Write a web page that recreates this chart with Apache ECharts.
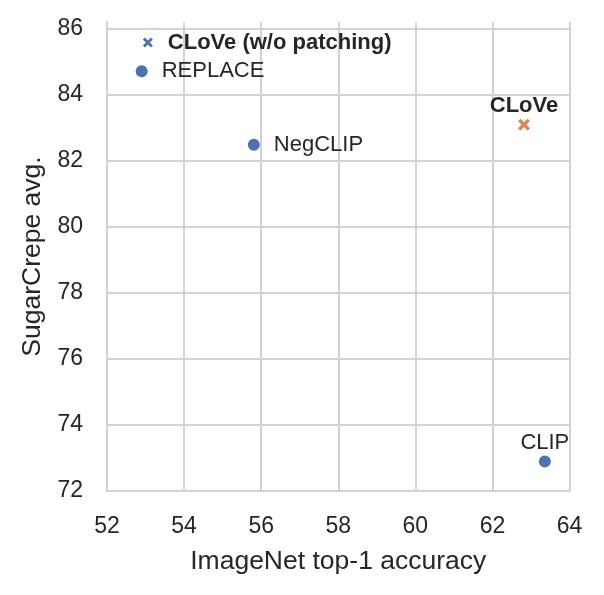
<!DOCTYPE html>
<html>
<head>
<meta charset="utf-8">
<script src="https://cdn.jsdelivr.net/npm/echarts@6/dist/echarts.min.js"></script>
<style>
  html, body { margin: 0; padding: 0; background: #fff; }
  #main { width: 604px; height: 595px; }
</style>
</head>
<body>
<div id="main"></div>
<script>
// values
var models = ['CLoVe (w/o patching)', 'REPLACE', 'NegCLIP', 'CLoVe', 'CLIP'];
var imagenetTop1 = [53.06, 52.90, 55.81, 62.82, 63.36];
var sugarcrepeAvg = [85.58, 84.71, 82.48, 83.09, 72.89];
var markerKind = ['x', 'o', 'o', 'x', 'o'];
var labelSide = ['right', 'right', 'right', 'top', 'top'];
var boldLabel = [true, false, false, true, false];
var xTicks = [52, 54, 56, 58, 60, 62, 64];
var yTicks = [72, 74, 76, 78, 80, 82, 84, 86];

var FONT = '"Liberation Sans", Arial, Helvetica, sans-serif';
var BLUE = '#4c72b0';
var ORANGE = '#dd8452';
var GRID = '#d2d2d2';
var TEXT = '#262626';
var XPATH = 'path://M2,0 L5,3 L8,0 L10,2 L7,5 L10,8 L8,10 L5,7 L2,10 L0,8 L3,5 L0,2 Z';

var dom = document.getElementById('main');
var myChart = echarts.init(dom, null, { renderer: 'canvas' });

function point(i) {
    var isX = markerKind[i] === 'x';
    var color = (models[i] === 'CLoVe') ? ORANGE : BLUE;
    var size = isX ? (models[i] === 'CLoVe' ? 12 : 10) : 12;
    return {
        name: models[i],
        value: [imagenetTop1[i], sugarcrepeAvg[i]],
        symbol: isX ? XPATH : 'circle',
        symbolSize: size,
        itemStyle: { color: color, opacity: 1 },
        label: {
            show: true,
            formatter: models[i],
            position: labelSide[i],
            distance: labelSide[i] === 'right' ? (20 - size / 2) : 2,
            fontFamily: FONT,
            fontSize: 22,
            fontWeight: boldLabel[i] ? 'bold' : 'normal',
            color: TEXT,
            opacity: 1
        }
    };
}

var pts = [];
for (var i = 0; i < models.length; i++) pts.push(point(i));

// top extent sits a bit above 86; hide that extra line/label
var splitColors = yTicks.map(function () { return GRID; }).concat(['rgba(0,0,0,0)']);

var option = {
    animation: false,
    backgroundColor: '#ffffff',
    grid: { left: 107, right: 34.5, top: 22, bottom: 104 },
    xAxis: {
        type: 'value',
        min: xTicks[0],
        max: xTicks[xTicks.length - 1],
        interval: 2,
        name: 'ImageNet top-1 accuracy',
        nameLocation: 'middle',
        nameGap: 57,
        nameTextStyle: { fontFamily: FONT, fontSize: 26.5, color: TEXT },
        axisLine: { show: true, lineStyle: { color: GRID, width: 2 } },
        axisTick: { show: false },
        axisLabel: { fontFamily: FONT, fontSize: 23, color: TEXT, margin: 24 },
        splitLine: { show: true, lineStyle: { color: GRID, width: 2 } }
    },
    yAxis: {
        type: 'value',
        min: yTicks[0],
        max: 86.2,
        interval: 2,
        name: 'SugarCrepe avg.',
        nameLocation: 'middle',
        nameGap: 50,
        nameTextStyle: { fontFamily: FONT, fontSize: 26.5, color: TEXT },
        axisLine: { show: true, lineStyle: { color: GRID, width: 2 } },
        axisTick: { show: false },
        axisLabel: {
            fontFamily: FONT, fontSize: 23, color: TEXT, margin: 24,
            formatter: function (v) { return yTicks.indexOf(v) >= 0 ? String(v) : ''; }
        },
        splitLine: { show: true, lineStyle: { color: splitColors, width: 2 } }
    },
    series: [
        {
            type: 'scatter',
            data: pts,
            itemStyle: { opacity: 1 },
            z: 3
        }
    ]
};

myChart.setOption(option);
</script>
</body>
</html>
